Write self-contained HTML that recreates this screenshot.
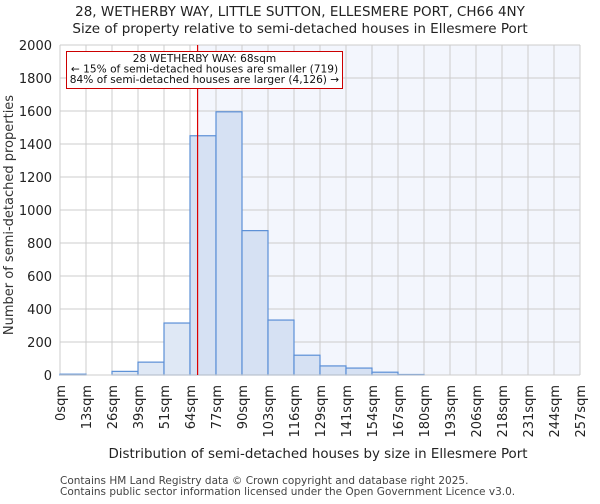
<!DOCTYPE html>
<html><head><meta charset="utf-8"><style>
body{margin:0;background:#fff;font-family:"DejaVu Sans","Liberation Sans",sans-serif;}
svg text{font-family:"DejaVu Sans","Liberation Sans",sans-serif;}
</style></head><body>
<svg id="chart" width="600" height="500" xmlns="http://www.w3.org/2000/svg">
<text x="300" y="16" text-anchor="middle" font-size="13.5" fill="#222">28, WETHERBY WAY, LITTLE SUTTON, ELLESMERE PORT, CH66 4NY</text>
<text x="300" y="33" text-anchor="middle" font-size="13.5" fill="#222">Size of property relative to semi-detached houses in Ellesmere Port</text>
<g id="plot"></g>
<text transform="translate(13,215) rotate(-90)" text-anchor="middle" font-size="13" fill="#333">Number of semi-detached properties</text>
<text x="318" y="458" text-anchor="middle" font-size="13.4" fill="#222">Distribution of semi-detached houses by size in Ellesmere Port</text>
<text x="60" y="484" font-size="10.5" fill="#444">Contains HM Land Registry data © Crown copyright and database right 2025.</text>
<text x="60" y="495" font-size="10.5" fill="#444">Contains public sector information licensed under the Open Government Licence v3.0.</text>
</svg>
<script>
const binLabels=["0sqm","13sqm","26sqm","39sqm","51sqm","64sqm","77sqm","90sqm","103sqm","116sqm","129sqm","141sqm","154sqm","167sqm","180sqm","193sqm","206sqm","218sqm","231sqm","244sqm","257sqm"];
const counts=[5,0,22,78,315,1450,1595,875,333,120,55,42,17,3,0,0,0,0,0,0];
const yTicks=[0,200,400,600,800,1000,1200,1400,1600,1800,2000];
const propertySize=68;
const binWidthSqm=12.85;
const L=60,R=580,T=45,B=375,yMax=2000;
const n=counts.length;
const x=i=>L+(R-L)*i/n;
const xv=v=>L+(R-L)*(v/binWidthSqm)/n;
const y=v=>B-(B-T)*v/yMax;
const NS="http://www.w3.org/2000/svg";
const g=document.getElementById('plot');
function mk(tag,attrs){const e=document.createElementNS(NS,tag);for(const k in attrs)e.setAttribute(k,attrs[k]);g.appendChild(e);return e;}
const px=xv(propertySize);
const sh=mk('rect',{x:px,y:T,width:R-px,height:B-T,fill:'#f3f6fd'});


yTicks.forEach(t=>{
 const l=mk('line',{x1:L,x2:R,y1:y(t),y2:y(t),stroke:'#ccc','stroke-width':1});
 
 
 const tx=mk('text',{x:L-8,y:y(t)+5,'text-anchor':'end','font-size':13,fill:'#222'});
 tx.textContent=t;
 
 
});
binLabels.forEach((s,i)=>{
 const l=mk('line',{x1:x(i),x2:x(i),y1:T,y2:B,stroke:'#ccc','stroke-width':1});
 
 
 const tx=mk('text',{transform:`translate(${x(i)+5},385) rotate(-90)`,'text-anchor':'end','font-size':13,fill:'#222'});
 tx.textContent=s;
 
 
});
counts.forEach((c,i)=>{
 if(c<=0)return;
 const r=mk('rect',{x:x(i),y:y(c),width:x(i+1)-x(i),height:B-y(c),fill:(x(i+1)<=px?'#dfe8f5':'#d6e1f3'),stroke:'#5b8fd6','stroke-width':1.2});
 
 
});
const ax=mk('line',{x1:L,x2:R,y1:B,y2:B,stroke:'#ccc','stroke-width':1});


const ml=mk('line',{x1:px,x2:px,y1:T,y2:B,stroke:'#dd0000','stroke-width':1.2});


const box=mk('rect',{x:66.5,y:51.5,width:276,height:37,fill:'#fff',stroke:'#cc0000','stroke-width':1});


["28 WETHERBY WAY: 68sqm","← 15% of semi-detached houses are smaller (719)","84% of semi-detached houses are larger (4,126) →"].forEach((s,i)=>{
 const t=mk('text',{x:204.5,y:62+i*10.5,'text-anchor':'middle','font-size':10.6,fill:'#111'});
 t.textContent=s;
 
 
});
</script>
</body></html>
